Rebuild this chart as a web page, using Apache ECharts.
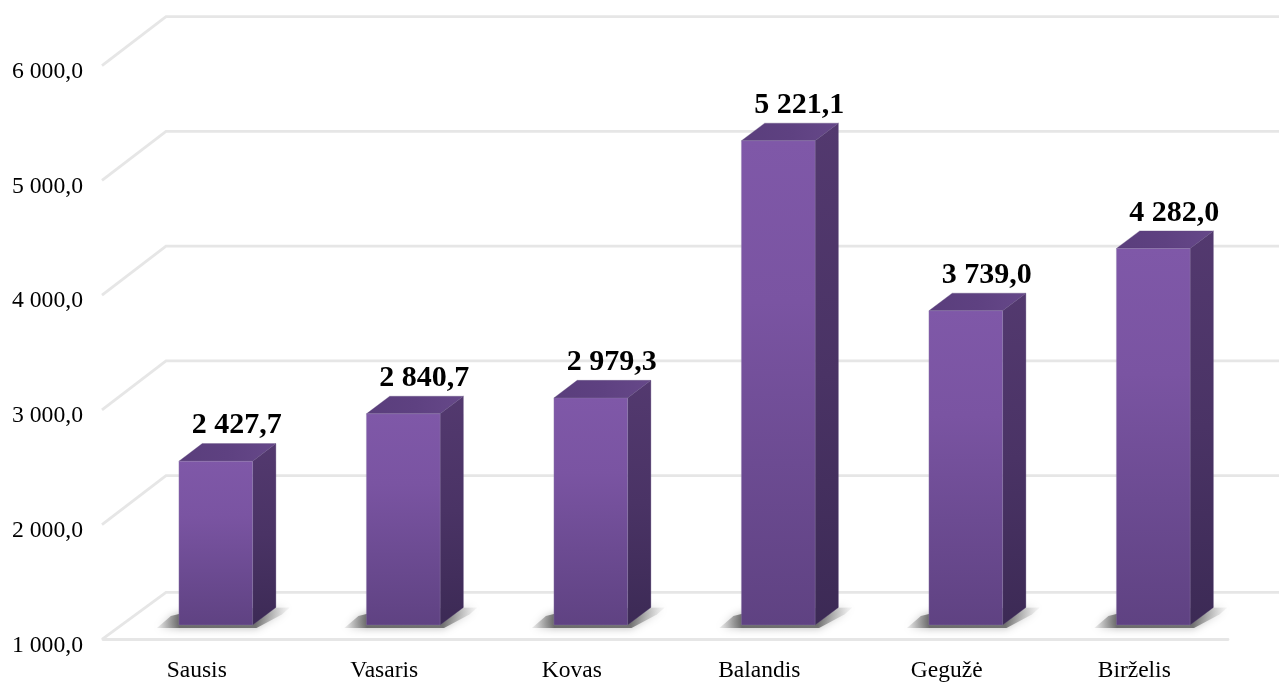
<!DOCTYPE html>
<html><head><meta charset="utf-8">
<style>html,body{margin:0;padding:0;background:#fff}#c{width:1279px;height:682px}</style>
<script src="https://cdn.jsdelivr.net/npm/echarts@6/dist/echarts.min.js"></script>
</head><body><div id="c"></div>
<script>
const categories = ['Sausis','Vasaris','Kovas','Balandis','Gegužė','Birželis'];
const values = [2427.7,2840.7,2979.3,5221.1,3739.0,4282.0];
const yTicks = [1000,2000,3000,4000,5000,6000];
const fmt = v => { const s = v.toFixed(1).replace('.',','); const n = s.length; return s.slice(0,n-5)+' '+s.slice(n-5); };
const SERIF = '"Liberation Serif","Times New Roman",serif';
const LINE = '#e6e6e6';
const grad = (x1,y1,x2,y2,c) => new echarts.graphic.LinearGradient(x1,y1,x2,y2,c.map((k,i)=>({offset:c.length>1?i/(c.length-1):0,color:k})));

function renderWall(params, api){
  const p = api.coord([0, api.value(0)]);
  const cs = params.coordSys;
  const fx = cs.x - 1, bx = cs.x + 63, by = p[1] - 49 + (api.value(0)===1000 ? 2 : 0);
  const children = [{type:'polyline',shape:{points:[[fx,p[1]],[bx,by],[api.getWidth(),by]]},style:{stroke:LINE,lineWidth:2.8,fill:null}}];
  return {type:'group',children};
}
function renderBar(params, api){
  const c = api.coord([api.value(0), api.value(1)]);
  const b = api.coord([api.value(0), 1000]);
  const W = 73.7, DX = 23.3, DY = 17.6, SX = 19, SY = 14.3;
  const cx = c[0]+SX, l = cx-W/2, r = cx+W/2, t = c[1]-SY, y0 = b[1]-SY;
  const children = [
    {type:'polygon',shape:{points:[[l-22,y0+3],[l-8,y0-9],[l+20,y0-16],[r+DX+14,y0-DY],[r+DX+6,y0-DY+7],[r+4,y0+3]]},
     style:{fill:new echarts.graphic.LinearGradient(0,0,1,0,[
       {offset:0,color:'rgba(140,140,140,.15)'},{offset:.17,color:'rgba(90,90,90,.85)'},
       {offset:.74,color:'rgba(90,90,90,.8)'},{offset:1,color:'rgba(180,180,180,.1)'}]),shadowBlur:9,shadowColor:'rgba(130,130,130,.7)'}},
    {type:'polygon',shape:{points:[[r,t],[r+DX,t-DY],[r+DX,y0-DY],[r,y0]]},
     style:{fill:grad(0,0,0,1,['#53396f','#4a3365','#3c2a55']),stroke:'rgba(90,70,120,.3)',lineWidth:1}},
    {type:'polygon',shape:{points:[[l,t],[l+DX,t-DY],[r+DX,t-DY],[r,t]]},
     style:{fill:grad(0,0,1,0,['#5a3e7c','#5e4181','#664889']),stroke:'rgba(90,70,120,.3)',lineWidth:1}},
    {type:'rect',shape:{x:l,y:t,width:W,height:y0-t},
     style:{fill:grad(0,0,0,1,['#7f58a8','#7a54a2','#6c4b92','#5f4282']),stroke:'rgba(150,135,175,.3)',lineWidth:1}},
    {type:'text',style:{text:fmt(api.value(1)),x:cx+21,y:t-DY-18,align:'center',verticalAlign:'middle',
      font:'bold 30px '+SERIF,fill:'#000'}}
  ];
  return {type:'group',children};
}
const chart = echarts.init(document.getElementById('c'),null,{renderer:'canvas'});
chart.setOption({
  animation:false,
  backgroundColor:'#fff',
  grid:{left:103,right:51,top:65.7,height:573.6,containLabel:false,outerBoundsMode:'none'},
  xAxis:{type:'category',data:categories,
    axisLine:{lineStyle:{color:LINE,width:2.8}},axisTick:{show:false},
    axisLabel:{color:'#000',fontFamily:SERIF,fontSize:23.5,margin:20}},
  yAxis:{type:'value',min:1000,max:6000,interval:1000,
    axisLine:{show:false},axisTick:{show:false},splitLine:{show:false},
    axisLabel:{color:'#000',fontFamily:SERIF,fontSize:23.7,margin:20,formatter:fmt,verticalAlign:'top',lineHeight:12}},
  series:[
    {type:'custom',coordinateSystem:'cartesian2d',renderItem:renderWall,silent:true,z:1,
      encode:{y:0},data:yTicks.map(v=>[v])},
    {type:'custom',coordinateSystem:'cartesian2d',renderItem:renderBar,z:3,
      encode:{x:0,y:1},data:values.map((v,i)=>[i,v])}
  ]
});
</script></body></html>
